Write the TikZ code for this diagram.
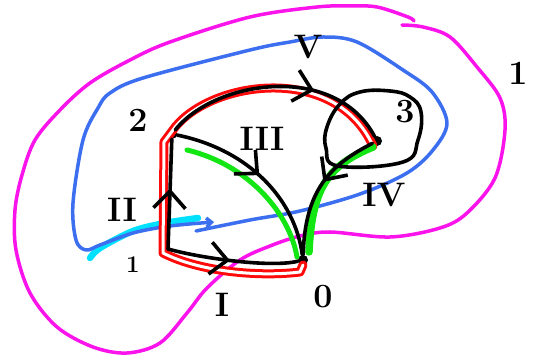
\documentclass[tikz,border=0pt]{standalone}
\usetikzlibrary{arrows.meta,decorations.markings}
\definecolor{penmagenta}{RGB}{250,20,235}
\definecolor{penblue}{RGB}{60,110,240}
\definecolor{pencyan}{RGB}{0,225,255}
\definecolor{pengreen}{RGB}{20,230,20}
\definecolor{penred}{RGB}{255,10,10}
\begin{document}
\begin{tikzpicture}[x=1pt,y=-1pt,
  edge/.style={line width=3.6pt,line cap=round,line join=round},
  midarrow/.style={postaction={decorate},decoration={markings,
    mark=at position #1 with {\arrow{Straight Barb[length=17pt,width=32pt]}}}},
  vdot/.style={circle,fill,inner sep=0pt,minimum size=10pt},
  lbl/.style={font=\fontsize{34}{34}\selectfont\bfseries},
  pen/.style={line width=#1,line cap=round,line join=round}]
\useasboundingbox (0,0) rectangle (542,358);

% outer curve
\draw[pen=3.5pt,penmagenta] plot[smooth,tension=0.55] coordinates {(402,25) (423,27) (450,37) (477,67)
  (500,98) (505,130) (495,178) (467,213) (440,228) (390,237) (330,232) (300,236) (270,246) (240,260)
  (207,288) (187,313) (160,343) (127,353) (93,347) (57,327) (30,293) (16,250) (15,210) (22,175)
  (35,140) (60,110) (90,83) (130,60) (170,42) (250,17) (317,7) (350,6) (377,7) (408,17) (414,21)};

% inner curve
\draw[pen=6.5pt,pencyan] plot[smooth] coordinates {(90,258) (100,248) (133,231) (165,223) (198,218)};
\draw[pen=3.5pt,penblue,-{Straight Barb[length=5pt,width=9pt]}] plot[smooth,tension=0.55] coordinates {(196,231) (250,220)
  (300,211) (360,194) (407,173) (433,150) (447,123) (432,92) (403,70) (357,42) (323,37) (290,42)
  (250,50) (143,78) (110,93) (98,108) (83,140) (73,203) (76,240) (86,250) (100,245) (133,233) (170,226) (214,222)};

% vertices
\node[vdot] (v0) at (303,260) {};
\coordinate (v1) at (168,249);
\node[vdot] (v2) at (172,134) {};
\node[vdot] (v3) at (377,141) {};

% highlighted path
\draw[pen=3pt,penred,double=white,double distance=3pt] (373,146) .. controls (336,64) and (215,80) .. (176,126)
  -- (164,142) -- (163,253) .. controls (200,272) and (260,277) .. (300,272) -- (303,265);
\draw[pen=5pt,pengreen] (187,150) .. controls (250,165) and (290,215) .. (297,257);
\draw[pen=7.5pt,pengreen] (373,147) .. controls (330,165) and (312,185) .. (309,252);

% edges
\draw[edge,midarrow=0.55] (v1) -- (v2);
\draw[edge,midarrow=0.48] (v1) .. controls (200,258) and (270,268) .. (v0);
\draw[edge,midarrow=0.66] (v2) .. controls (215,80) and (335,62) .. (v3);
\draw[edge,midarrow=0.5] (v2) .. controls (250,150) and (295,200) .. (v0);
\draw[edge,midarrow=0.45] (v3) .. controls (330,165) and (305,190) .. (v0);
\draw[edge] plot[smooth cycle,tension=0.7] coordinates {(338,166) (403,162) (418,140) (421,112)
  (410,97) (390,91) (360,92) (340,104) (327,127) (326,148)};

% labels
\node[lbl] (l0) at (323,297) {0};
\node[font=\fontsize{24}{24}\selectfont\bfseries] (l1) at (133,265) {1};
\node[lbl] (l2) at (138,120) {2};
\node[lbl] (l3) at (405,112) {3};
\node[lbl] (lout) at (518,73) {1};
\node[lbl] (rI) at (222,305) {I};
\node[lbl] (rII) at (122,210) {II};
\node[lbl] (rIII) at (262,139) {III};
\node[lbl] (rIV) at (384,195) {IV};
\node[lbl] (rV) at (308,47) {V};
\end{tikzpicture}
\end{document}
